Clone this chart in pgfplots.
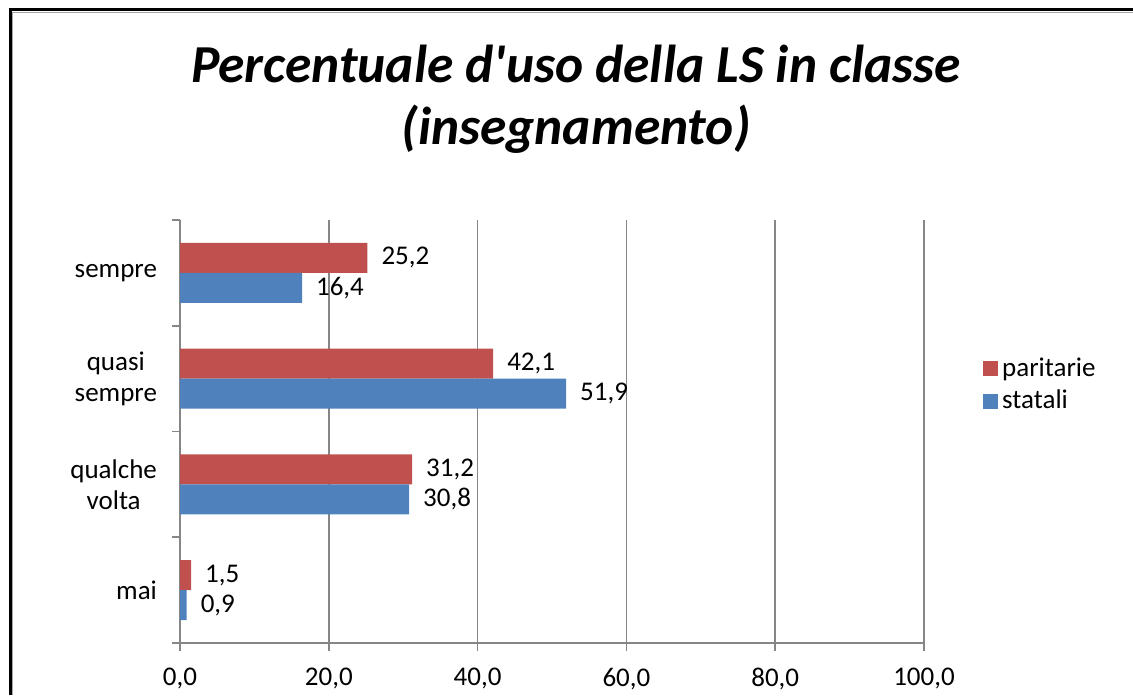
\documentclass[border=0pt]{standalone}
\usepackage{fontspec}
\setmainfont{Carlito}
\usepackage{pgfplots}
\pgfplotsset{compat=1.18}
\definecolor{parit}{RGB}{192,80,77}
\definecolor{stat}{RGB}{79,129,189}
\definecolor{gridgray}{RGB}{134,134,134}

\begin{document}
\begin{tikzpicture}
\useasboundingbox (0,0) rectangle (566.5pt,347.5pt);
% chart frame (left and top edges visible)
\draw[black, line width=1.5pt] (5pt,0) -- (5pt,342.5pt) -- (566.5pt,342.5pt);
\draw[gray!70, line width=0.7pt] (6.3pt,0) -- (6.3pt,341.2pt) -- (566.5pt,341.2pt);
% title
\node[anchor=base, font=\fontsize{26.7}{30}\selectfont\bfseries\itshape] at (288pt,306pt) {Percentuale d\textquotesingle uso della LS in classe};
\node[anchor=base, font=\fontsize{26.7}{30}\selectfont\bfseries\itshape] at (288pt,275pt) {(insegnamento)};
\begin{axis}[
    at={(90pt,26pt)}, anchor=south west,
    scale only axis, width=372pt, height=211.5pt,
    xbar, bar width=15pt,
    xmin=0, xmax=100, ymin=-0.5, ymax=3.5,
    axis x line*=bottom, axis y line*=left,
    xtick pos=bottom, ytick pos=left,
    axis line style={gridgray, line width=0.8pt},
    tick style={gridgray, line width=0.8pt},
    tick align=outside,
    major tick length=4pt, minor tick length=4pt,
    xtick={0,20,...,100},
    xmajorgrids, grid style={gridgray, line width=0.8pt},
    ytick={0,1,2,3},
    yticklabels={mai, qualche\\volta, quasi\\sempre, sempre},
    major y tick style={draw=none},
    minor ytick={-0.5,0.5,1.5,2.5,3.5},
    font=\fontsize{13.5}{15.5}\selectfont,
    yticklabel style={align=center, xshift=-4pt},
    xticklabel style={yshift=-5pt, /pgf/number format/.cd, fixed, fixed zerofill, precision=1, use comma, assume math mode=true},
    point meta=x,
    nodes near coords={\pgfmathprintnumber[fixed,fixed zerofill,precision=1,use comma,assume math mode=true]{\pgfplotspointmeta}},
    every node near coord/.append style={anchor=west, xshift=3.5pt, black},
    legend style={at={(1.079,0.685)}, anchor=north west, draw=none, fill=none, inner sep=0pt, row sep=1.5pt},
    legend cell align=left,
    legend image code/.code={\fill[#1] (0pt,-3.75pt) rectangle (7.5pt,3.75pt);},
]
\addplot[fill=parit, draw=none, bar shift=7.5pt] coordinates {
    (1.5,0) (31.2,1) (42.1,2) (25.2,3)
};
\addlegendentry{paritarie}
\addplot[fill=stat, draw=none, bar shift=-7.5pt] coordinates {
    (0.9,0) (30.8,1) (51.9,2) (16.4,3)
};
\addlegendentry{statali}
\end{axis}
\end{tikzpicture}
\end{document}
